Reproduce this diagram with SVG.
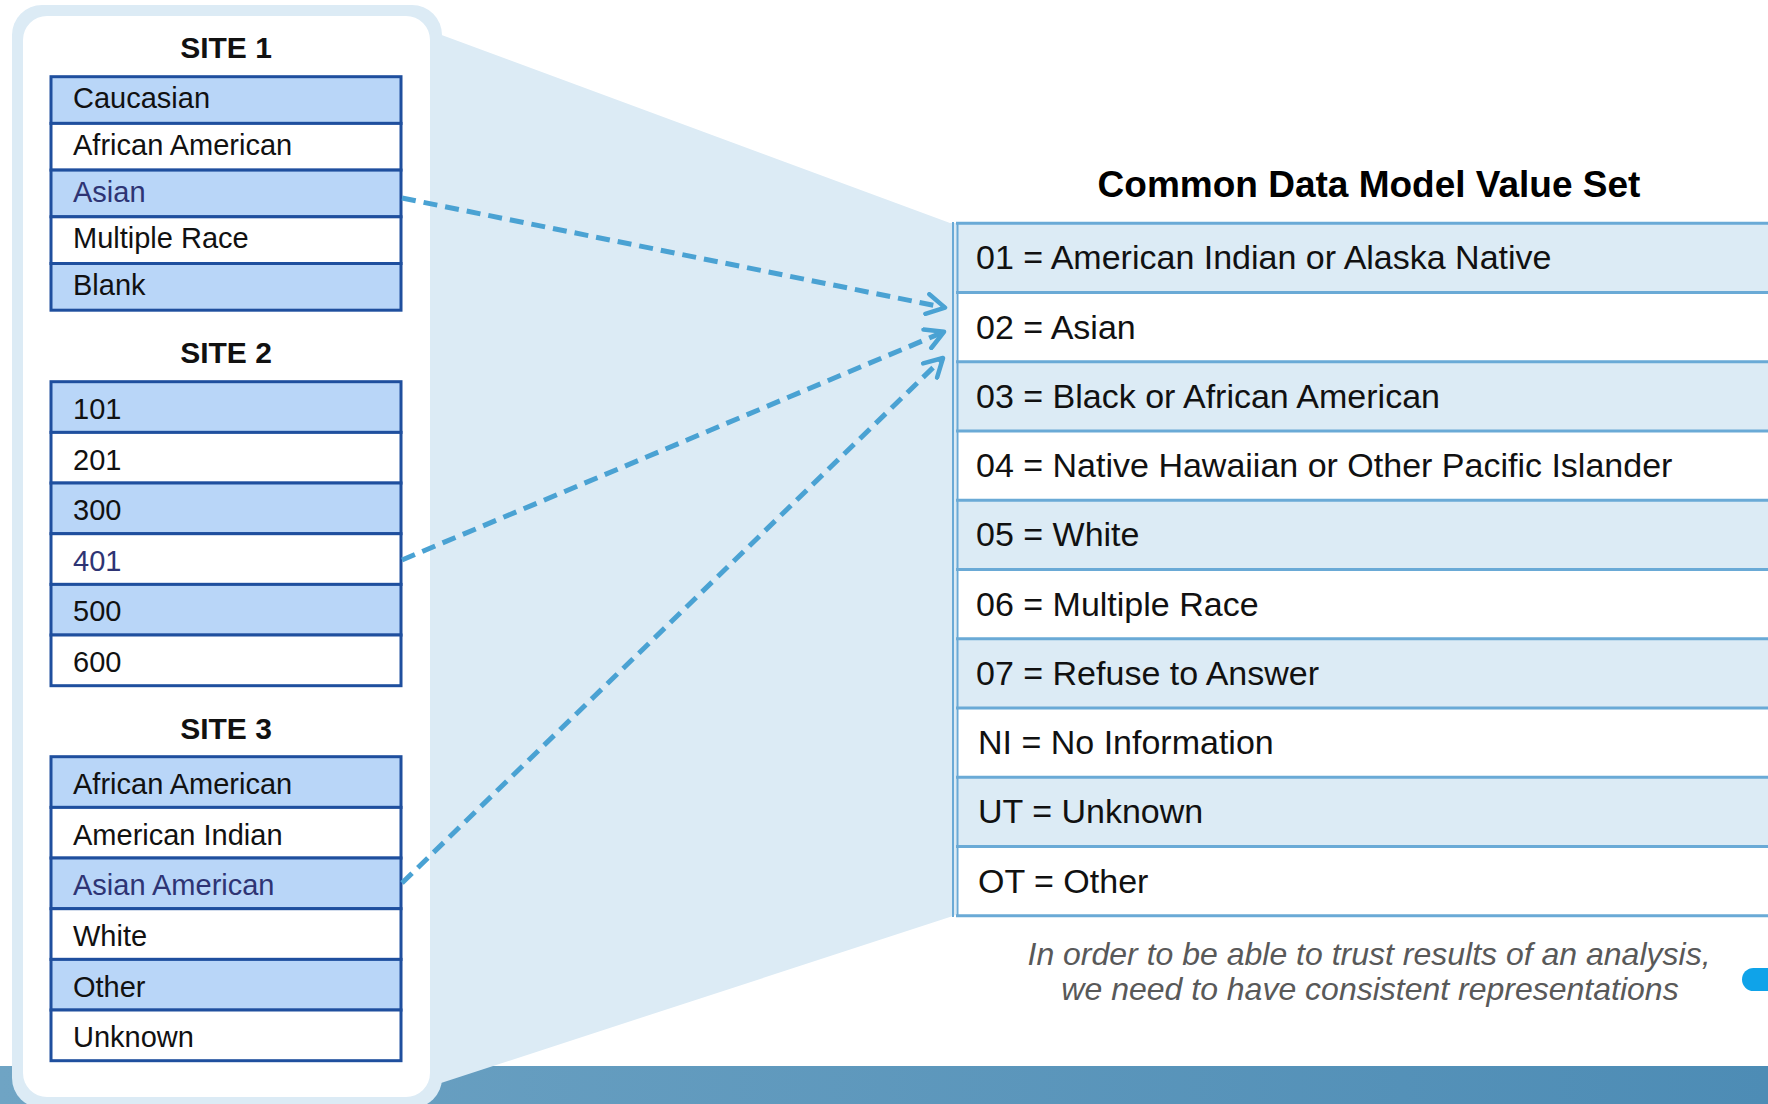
<svg xmlns="http://www.w3.org/2000/svg" width="1768" height="1104" viewBox="0 0 1768 1104">
<defs>
<style>
.frame{fill:#DCEBF5}
.hi{fill:#B9D6F8;stroke:#1F4F9E;stroke-width:3}
.lo{fill:#FFFFFF;stroke:#1F4F9E;stroke-width:3}
text{font-family:"Liberation Sans",Arial,sans-serif}
.lbl{font-size:29px;fill:#111111}
.sel{fill:#2E3474}
.title{font-weight:bold;font-size:30px;text-anchor:middle;fill:#111111}
.cdmtitle{font-weight:bold;font-size:37px;text-anchor:middle;fill:#000000}
.codd{fill:#DCEBF5}
.ceven{fill:#FFFFFF}
.cline{stroke:#6AAAD6;stroke-width:3;fill:none}
.clbl{font-size:34px;fill:#111111}
.conn{stroke:#4AA2D3;stroke-width:5;stroke-dasharray:14 8;fill:none}
.note{font-size:32px;font-style:italic;fill:#595959;text-anchor:middle}
</style>
<marker id="arrow" markerUnits="userSpaceOnUse" viewBox="0 0 24 24" refX="21" refY="12" markerWidth="24" markerHeight="24" orient="auto">
<path d="M3,2 L21,12 L3,22" fill="none" stroke="#4AA2D3" stroke-width="4.5" stroke-linecap="round" stroke-linejoin="round" stroke-dasharray="none"/>
</marker>
<linearGradient id="band" x1="0" y1="0" x2="1" y2="0">
<stop offset="0" stop-color="#6FA4C4"/>
<stop offset="1" stop-color="#4D8CB5"/>
</linearGradient>
</defs>

<rect x="0" y="0" width="1768" height="1104" fill="#FFFFFF"/>
<rect x="0" y="1066" width="1768" height="38" fill="url(#band)"/>

<g id="frame">
<rect class="frame" x="12" y="5" width="430" height="1103" rx="30"/>
<polygon class="frame" points="420,27 950,223 956,223 956,915 441,1083 420,1083"/>
<rect x="23" y="16" width="407" height="1081" rx="24" fill="#FFFFFF"/>
</g>

<g id="site1">
<text class="title" x="226" y="58">SITE 1</text>
<g id="s1-caucasian"><rect class="hi" x="51" y="76.7" width="350" height="46.7"/><text class="lbl" x="73" y="108.3">Caucasian</text></g>
<g id="s1-african-american"><rect class="lo" x="51" y="123.4" width="350" height="46.7"/><text class="lbl" x="73" y="155">African American</text></g>
<g id="s1-asian"><rect class="hi" x="51" y="170.1" width="350" height="46.7"/><text class="lbl sel" x="73" y="201.7">Asian</text></g>
<g id="s1-multiple-race"><rect class="lo" x="51" y="216.8" width="350" height="46.7"/><text class="lbl" x="73" y="248.4">Multiple Race</text></g>
<g id="s1-blank"><rect class="hi" x="51" y="263.5" width="350" height="46.7"/><text class="lbl" x="73" y="295.1">Blank</text></g>
</g>

<g id="site2">
<text class="title" x="226" y="363">SITE 2</text>
<g id="s2-101"><rect class="hi" x="51" y="381.7" width="350" height="50.7"/><text class="lbl" x="73" y="419.3">101</text></g>
<g id="s2-201"><rect class="lo" x="51" y="432.4" width="350" height="50.7"/><text class="lbl" x="73" y="469.8">201</text></g>
<g id="s2-300"><rect class="hi" x="51" y="483" width="350" height="50.7"/><text class="lbl" x="73" y="520.3">300</text></g>
<g id="s2-401"><rect class="lo" x="51" y="533.7" width="350" height="50.7"/><text class="lbl sel" x="73" y="570.8">401</text></g>
<g id="s2-500"><rect class="hi" x="51" y="584.4" width="350" height="50.7"/><text class="lbl" x="73" y="621.3">500</text></g>
<g id="s2-600"><rect class="lo" x="51" y="635" width="350" height="50.7"/><text class="lbl" x="73" y="671.5">600</text></g>
</g>

<g id="site3">
<text class="title" x="226" y="739">SITE 3</text>
<g id="s3-african-american"><rect class="hi" x="51" y="756.7" width="350" height="50.7"/><text class="lbl" x="73" y="794">African American</text></g>
<g id="s3-american-indian"><rect class="lo" x="51" y="807.4" width="350" height="50.7"/><text class="lbl" x="73" y="844.7">American Indian</text></g>
<g id="s3-asian-american"><rect class="hi" x="51" y="858" width="350" height="50.7"/><text class="lbl sel" x="73" y="895.3">Asian American</text></g>
<g id="s3-white"><rect class="lo" x="51" y="908.7" width="350" height="50.7"/><text class="lbl" x="73" y="946">White</text></g>
<g id="s3-other"><rect class="hi" x="51" y="959.4" width="350" height="50.7"/><text class="lbl" x="73" y="996.7">Other</text></g>
<g id="s3-unknown"><rect class="lo" x="51" y="1010" width="350" height="50.7"/><text class="lbl" x="73" y="1047.3">Unknown</text></g>
</g>

<g id="cdm">
<text class="cdmtitle" x="1369" y="196.7">Common Data Model Value Set</text>
<g id="cdm-01"><rect class="codd" x="956" y="223.3" width="812" height="69.25"/><text class="clbl" x="976" y="269.3">01 = American Indian or Alaska Native</text></g>
<g id="cdm-02"><rect class="ceven" x="956" y="292.55" width="812" height="69.25"/><text class="clbl" x="976" y="338.6">02 = Asian</text></g>
<g id="cdm-03"><rect class="codd" x="956" y="361.8" width="812" height="69.25"/><text class="clbl" x="976" y="407.8">03 = Black or African American</text></g>
<g id="cdm-04"><rect class="ceven" x="956" y="431.05" width="812" height="69.25"/><text class="clbl" x="976" y="477.1">04 = Native Hawaiian or Other Pacific Islander</text></g>
<g id="cdm-05"><rect class="codd" x="956" y="500.3" width="812" height="69.25"/><text class="clbl" x="976" y="546.3">05 = White</text></g>
<g id="cdm-06"><rect class="ceven" x="956" y="569.55" width="812" height="69.25"/><text class="clbl" x="976" y="615.6">06 = Multiple Race</text></g>
<g id="cdm-07"><rect class="codd" x="956" y="638.8" width="812" height="69.25"/><text class="clbl" x="976" y="684.8">07 = Refuse to Answer</text></g>
<g id="cdm-ni"><rect class="ceven" x="956" y="708.05" width="812" height="69.25"/><text class="clbl" x="978" y="754.1">NI = No Information</text></g>
<g id="cdm-ut"><rect class="codd" x="956" y="777.3" width="812" height="69.25"/><text class="clbl" x="978" y="823.3">UT = Unknown</text></g>
<g id="cdm-ot"><rect class="ceven" x="956" y="846.55" width="812" height="69.25"/><text class="clbl" x="978" y="892.6">OT = Other</text></g>
<path class="cline" d="M956,223.3H1768M956,292.55H1768M956,361.8H1768M956,431.05H1768M956,500.3H1768M956,569.55H1768M956,638.8H1768M956,708.05H1768M956,777.3H1768M956,846.55H1768M956,915.8H1768"/>
<path d="M953,222V917M957.5,222V917" stroke="#6AAAD6" stroke-width="2" fill="none"/>
</g>

<g id="connectors">
<path class="conn" d="M402,198 L945,307.6" marker-end="url(#arrow)"/>
<path class="conn" d="M402,560 L944,331.8" marker-end="url(#arrow)"/>
<path class="conn" d="M402,883 L943,358" marker-end="url(#arrow)"/>
</g>

<g id="note">
<text class="note" x="1369" y="964.5">In order to be able to trust results of an analysis,</text>
<text class="note" x="1370" y="999.7">we need to have consistent representations</text>
</g>

<rect x="1742" y="968" width="40" height="23" rx="11.5" fill="#0FA3E9"/>
</svg>
